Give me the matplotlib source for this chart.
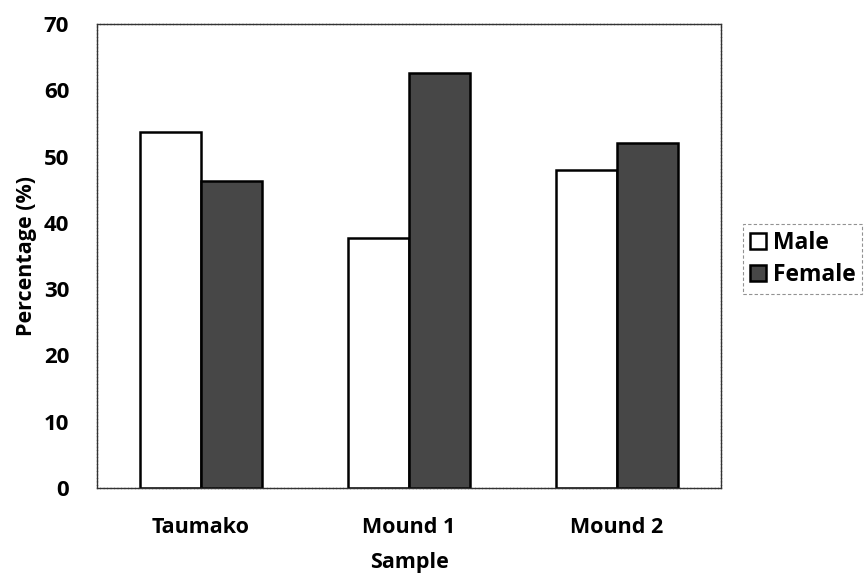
import matplotlib
matplotlib.use("Agg")
import matplotlib.pyplot as plt
import numpy as np

categories = ["Taumako", "Mound 1", "Mound 2"]
male = [53.7, 37.7, 48.0]
female = [46.3, 62.6, 52.0]
yticks = [0, 10, 20, 30, 40, 50, 60, 70]

plt.rcParams['font.family'] = ['Open Sans', 'DejaVu Sans']

fig = plt.figure(figsize=(8.67, 5.81), dpi=100)
ax = fig.add_axes([0.1119, 0.160, 0.7197, 0.7986])

x = np.arange(len(categories))
w = 0.293
ax.bar(x - w/2, male, width=w, facecolor='white', edgecolor='black', linewidth=1.8, label='Male')
ax.bar(x + w/2, female, width=w, facecolor='#474747', edgecolor='black', linewidth=1.8, label='Female')

ax.set_xlim(-0.5, 2.5)
ax.set_ylim(0, 70)
ax.set_yticks(yticks)
ax.set_xticks(x)
ax.set_xticklabels(categories, fontsize=15.5, fontweight='bold')
ax.set_yticklabels([str(v) for v in yticks], fontsize=16, fontweight='bold')
ax.tick_params(axis='y', length=0, pad=20)
ax.tick_params(axis='x', length=0, pad=21)

for s in ax.spines.values():
    s.set_color('#333333')
    s.set_linewidth(1.0)
    s.set_linestyle((0, (2, 0.5)))

ax.set_xlabel('Sample', fontsize=15.5, fontweight='bold', labelpad=10)
ax.set_ylabel('Percentage (%)', fontsize=15.5, fontweight='bold', labelpad=5)

leg = fig.legend(loc='upper left', bbox_to_anchor=(0.857, 0.614), fontsize=16,
                 frameon=True, fancybox=False, handlelength=0.7, handleheight=0.7,
                 handletextpad=0.3, borderpad=0.3, labelspacing=0.35, borderaxespad=0,
                 prop={'weight': 'bold', 'size': 16.5})
leg.get_frame().set_edgecolor('#777777')
leg.get_frame().set_linewidth(0.8)
leg.get_frame().set_linestyle((0, (3, 2)))

fig.savefig('out.png', dpi=100)
